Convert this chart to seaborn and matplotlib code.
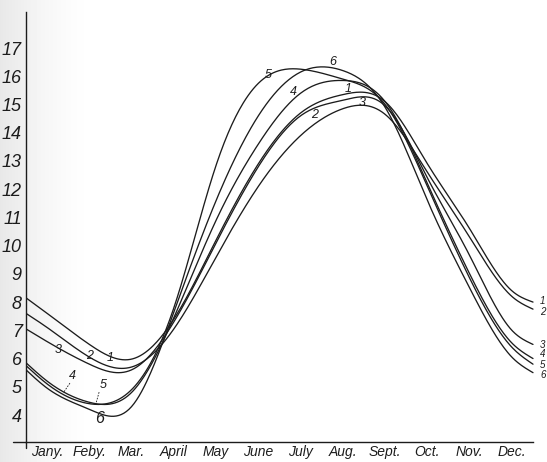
import numpy as np
import matplotlib
matplotlib.use("Agg")
import matplotlib.pyplot as plt
import seaborn as sns

# Month names along the bottom
months = ["Jany.", "Feby.", "Mar.", "April", "May", "June",
          "July", "Aug.", "Sept.", "Oct.", "Nov.", "Dec."]

# Sample positions: start of year, mid-month points, end of year
knots = [0.0, 0.5, 1.5, 2.5, 3.5, 4.5, 5.5, 6.5, 7.5, 8.5, 9.5, 10.5, 11.5, 12.0]

curve1 = [8.15, 7.6, 6.5, 5.98, 7.4, 10.2, 12.9, 14.7, 15.35, 15.1, 12.9, 10.6, 8.4, 8.0]
curve2 = [7.6, 7.1, 6.05, 5.7, 7.05, 9.6, 12.1, 13.9, 14.85, 14.65, 12.6, 10.3, 8.2, 7.75]
curve3 = [7.05, 6.6, 5.8, 5.6, 7.3, 10.1, 12.8, 14.6, 15.15, 14.95, 12.4, 9.65, 7.0, 6.5]
curve4 = [5.85, 5.2, 4.45, 4.8, 7.45, 10.9, 13.6, 15.4, 15.85, 15.1, 12.2, 9.0, 6.55, 6.0]
curve5 = [5.75, 5.1, 4.4, 4.9, 7.8, 12.85, 15.75, 16.25, 15.9, 15.0, 12.1, 8.85, 6.4, 5.8]
curve6 = [5.6, 4.95, 4.2, 4.3, 7.65, 11.6, 14.6, 16.15, 16.2, 14.9, 11.6, 8.5, 6.05, 5.5]

curves = [curve1, curve2, curve3, curve4, curve5, curve6]
y_ticks = list(range(4, 18))

INK = "#1c1c1c"


def natural_spline(xk, yk, n=400):
    """Smooth natural cubic spline through the given points."""
    xk = np.asarray(xk, float)
    yk = np.asarray(yk, float)
    k = len(xk)
    h = np.diff(xk)
    A = np.zeros((k, k))
    r = np.zeros(k)
    A[0, 0] = A[-1, -1] = 1.0
    for i in range(1, k - 1):
        A[i, i - 1] = h[i - 1]
        A[i, i] = 2 * (h[i - 1] + h[i])
        A[i, i + 1] = h[i]
        r[i] = 6 * ((yk[i + 1] - yk[i]) / h[i] - (yk[i] - yk[i - 1]) / h[i - 1])
    M = np.linalg.solve(A, r)
    xs = np.linspace(xk[0], xk[-1], n)
    idx = np.clip(np.searchsorted(xk, xs) - 1, 0, k - 2)
    x0, x1 = xk[idx], xk[idx + 1]
    hh = x1 - x0
    a = (x1 - xs) / hh
    b = (xs - x0) / hh
    ys = (a * yk[idx] + b * yk[idx + 1]
          + ((a ** 3 - a) * M[idx] + (b ** 3 - b) * M[idx + 1]) * hh ** 2 / 6)
    return xs, ys


sns.set_theme(style="white")
plt.rcParams["font.family"] = ["Liberation Sans", "DejaVu Sans"]

W, H = 547, 462
fig = plt.figure(figsize=(W / 100, H / 100), dpi=100)
fig.patch.set_facecolor("white")

# faint paper shading on the left edge
bg = fig.add_axes([0, 0, 1, 1], zorder=-5)
bg.axis("off")
gx = np.arange(W)
shade = 1 - 0.09 * np.clip(1 - gx / 95.0, 0, 1) ** 1.5
bg.imshow(np.tile(shade, (2, 1)), cmap="gray", vmin=0, vmax=1,
          aspect="auto", extent=[0, 1, 0, 1])
bg.set_xlim(0, 1)
bg.set_ylim(0, 1)

# plotting frame: y-axis at x=26px, x-axis at y=442px
px_month = 42.25
px_unit = 28.23
ax = fig.add_axes([26 / W, 20 / H, (W - 26) / W, 430 / H])
ax.patch.set_alpha(0)
ax.set_xlim(0, (W - 26) / px_month)
y_bottom = 4 - 27 / px_unit
y_top = 4 + 403 / px_unit
ax.set_ylim(y_bottom, y_top)

for vals in curves:
    xs, ys = natural_spline(knots, vals)
    sns.lineplot(x=xs, y=ys, ax=ax, color=INK, lw=0.95,
                 estimator=None, sort=False, legend=False)

for s in ("top", "right"):
    ax.spines[s].set_visible(False)
for s in ("left", "bottom"):
    ax.spines[s].set_color(INK)
    ax.spines[s].set_linewidth(1.0)
ax.spines["bottom"].set_bounds(0, 12)

# small overhangs of the axis lines past the corner
ax.plot([-13 / px_month, 0], [y_bottom, y_bottom], color=INK, lw=1.0, clip_on=False)
ax.plot([0, 0], [y_bottom, y_bottom - 6 / px_unit], color=INK, lw=1.0, clip_on=False)

ax.set_yticks(y_ticks)
ax.set_yticklabels([str(v) for v in y_ticks], fontsize=13, style="italic", color=INK)
ax.tick_params(axis="y", length=0, pad=3)

ax.set_xticks(range(1, 12))
ax.set_xticklabels([])
ax.set_xticks(np.arange(12) + 0.5, minor=True)
ax.set_xticklabels(months, minor=True, fontsize=10, style="italic", color=INK)
ax.tick_params(axis="x", which="major", direction="inout", length=6, width=0.9, color=INK)
ax.tick_params(axis="x", which="minor", length=0, pad=2)
ax.grid(False)

# curve numbers
lab_kw = dict(fontsize=9, style="italic", color=INK, ha="center", va="center")
end_kw = dict(fontsize=7, style="italic", color=INK, ha="center", va="center")
end_labels = [("1", 8.04), ("2", 7.64), ("3", 6.48), ("4", 6.16), ("5", 5.78), ("6", 5.40)]
for t, v in end_labels:
    ax.text(12.23, v, t, clip_on=False, **end_kw)

peak_labels = [("5", 5.73, 16.04), ("6", 7.27, 16.50), ("4", 6.32, 15.44),
               ("1", 7.62, 15.55), ("3", 7.95, 15.05), ("2", 6.82, 14.63)]
for t, m, v in peak_labels:
    ax.text(m, v, t, **lab_kw)

low_labels = [("3", 0.76, 6.30), ("2", 1.51, 6.09), ("1", 1.99, 6.02),
              ("4", 1.11, 5.38), ("5", 1.82, 5.06)]
for t, m, v in low_labels:
    ax.text(m, v, t, **lab_kw)
ax.text(1.75, 3.89, "6", fontsize=11.5, style="italic", color=INK, ha="center", va="center")

# dashed leaders from the small numbers to their curves
for (m0, v0, m1, v1) in [(1.04, 5.13, 0.88, 4.78), (1.73, 4.81, 1.66, 4.43)]:
    ax.plot([m0, m1], [v0, v1], color=INK, lw=0.6, ls=(0, (2, 1.5)))

fig.savefig("out.png", dpi=100)
